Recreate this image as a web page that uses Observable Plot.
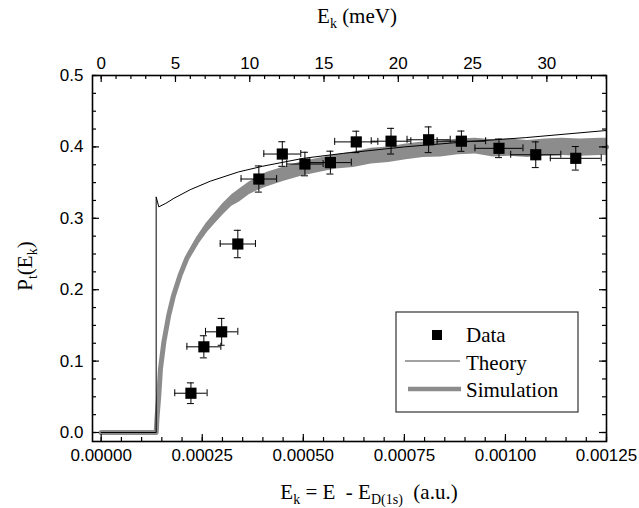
<!DOCTYPE html>
<html><head><meta charset="utf-8">
<script src="https://cdn.jsdelivr.net/npm/d3@7"></script>
<script src="https://cdn.jsdelivr.net/npm/@observablehq/plot@0.6"></script>
<style>body{margin:0;background:#fff} svg{display:block}</style>
</head><body><div id="chart"></div>
<script>
const HARTREE_MEV = 27211.4;

// Measured data points (a.u., P_t) with error bars
const dataX  = [0.000222, 0.000254, 0.000298, 0.000338, 0.000390, 0.000448, 0.000504, 0.000567, 0.000631, 0.000717, 0.000810, 0.000891, 0.000984, 0.001075, 0.001174];
const dataY  = [0.055, 0.120, 0.141, 0.264, 0.355, 0.390, 0.376, 0.378, 0.407, 0.408, 0.410, 0.408, 0.398, 0.389, 0.384];
const dataEx = [0.0000400, 0.0000420, 0.0000400, 0.0000436, 0.0000440, 0.0000457, 0.0000450, 0.0000517, 0.0000534, 0.0000490, 0.0000534, 0.0000600, 0.0000594, 0.0000620, 0.0000630];
const dataEy = [0.0145, 0.0155, 0.0188, 0.0192, 0.0183, 0.0172, 0.0165, 0.0160, 0.0150, 0.0180, 0.0180, 0.0142, 0.0130, 0.0180, 0.0165];

// Theory curve
const theoryX = [0, 0.000136, 0.000136, 0.0001425, 0.00016, 0.00018, 0.00022, 0.00027, 0.00034, 0.00040, 0.00050, 0.00060, 0.00075, 0.00090, 0.00105, 0.00125];
const theoryY = [0, 0, 0.330, 0.316, 0.321, 0.328, 0.340, 0.352, 0.365, 0.373, 0.384, 0.391, 0.400, 0.407, 0.413, 0.423];

// Simulation band (centre and half-spread)
const simX = [0, 0.000136, 0.000138, 0.0001425, 0.0001466, 0.000155, 0.000167, 0.000179, 0.000195, 0.000212, 0.000236, 0.00026, 0.00030, 0.000323, 0.000342, 0.000366, 0.000383, 0.000409, 0.000452, 0.000495, 0.000538, 0.000581, 0.000624, 0.000668, 0.000711, 0.000754, 0.000797, 0.00084, 0.000883, 0.000926, 0.00097, 0.00101, 0.001055, 0.001098, 0.00114, 0.001184, 0.001236, 0.00125];
const simY = [0, 0, 0.020, 0.0516, 0.089, 0.1266, 0.164, 0.192, 0.220, 0.244, 0.267, 0.286, 0.312, 0.325, 0.332, 0.342, 0.347, 0.354, 0.362, 0.369, 0.374, 0.379, 0.382, 0.387, 0.389, 0.393, 0.396, 0.397, 0.400, 0.401, 0.398, 0.399, 0.397, 0.399, 0.400, 0.399, 0.400, 0.400];
const simSpread = [0, 0, 0, 0, 0, 0, 0.002, 0.003, 0.004, 0.005, 0.006, 0.007, 0.008, 0.008, 0.009, 0.009, 0.009, 0.010, 0.010, 0.010, 0.010, 0.010, 0.011, 0.011, 0.011, 0.011, 0.011, 0.011, 0.011, 0.011, 0.012, 0.012, 0.012, 0.012, 0.012, 0.012, 0.012, 0.012];

// Tick labels
const bottomTicks = [0, 0.00025, 0.0005, 0.00075, 0.001, 0.00125];
const topTicksMeV = [0, 5, 10, 15, 20, 25, 30];
const leftTicks = [0, 0.1, 0.2, 0.3, 0.4, 0.5];
const legendLabels = ["Data", "Theory", "Simulation"];

const points = dataX.map((x, i) => ({x, y: dataY[i], ex: dataEx[i], ey: dataEy[i]}));
const theory = theoryX.map((x, i) => ({x, y: theoryY[i]}));
const sim = simX.map((x, i) => ({x, y: simY[i], s: simSpread[i]}));

const W = 639, H = 508, mL = 92, mR = 33, mT = 75, mB = 67;
const pW = W - mL - mR, pH = H - mT - mB;
const xMinor = d3.range(0, 0.0012501, 0.00005);
const topMinor = d3.range(0, 34.5, 1).map(m => m / HARTREE_MEV);
const topMajor = topTicksMeV.map(m => m / HARTREE_MEV);
const yMinor = d3.range(0, 0.5001, 0.025);
const GREY = "#8c8c8c";

const plot = Plot.plot({
  width: W, height: H,
  marginLeft: mL, marginRight: mR, marginTop: mT, marginBottom: mB,
  style: {fontFamily: "'Liberation Sans', Arial, sans-serif", fontSize: "17px", background: "#fff", color: "#000"},
  x: {domain: [-0.0000215, 0.00125]},
  y: {domain: [-0.0126, 0.5]},
  marks: [
    Plot.areaY(sim, {x: "x", y1: d => d.y - d.s, y2: d => d.y + d.s, fill: GREY, curve: "linear"}),
    Plot.line(sim, {x: "x", y: "y", stroke: GREY, strokeWidth: 5, strokeLinejoin: "round"}),
    Plot.line(theory, {x: "x", y: "y", stroke: "#000", strokeWidth: 1}),
    Plot.ruleY(points, {y: "y", x1: d => d.x - d.ex, x2: d => d.x + d.ex, stroke: "#000", strokeWidth: 1}),
    Plot.ruleX(points, {x: "x", y1: d => d.y - d.ey, y2: d => d.y + d.ey, stroke: "#000", strokeWidth: 1}),
    Plot.ruleX(points, {x: d => d.x - d.ex, y1: d => d.y, y2: d => d.y, insetTop: -3.5, insetBottom: -3.5, stroke: "#000"}),
    Plot.ruleX(points, {x: d => d.x + d.ex, y1: d => d.y, y2: d => d.y, insetTop: -3.5, insetBottom: -3.5, stroke: "#000"}),
    Plot.ruleY(points, {y: d => d.y + d.ey, x1: "x", x2: "x", insetLeft: -3.5, insetRight: -3.5, stroke: "#000"}),
    Plot.ruleY(points, {y: d => d.y - d.ey, x1: "x", x2: "x", insetLeft: -3.5, insetRight: -3.5, stroke: "#000"}),
    Plot.dot(points, {x: "x", y: "y", symbol: "square", r: 6.3, fill: "#000", stroke: "none"}),
    // inward ticks
    Plot.ruleX(xMinor, {x: d => d, insetTop: pH - 4, stroke: "#000", strokeWidth: 1.2}),
    Plot.ruleX(bottomTicks, {x: d => d, insetTop: pH - 7, stroke: "#000", strokeWidth: 1.2}),
    Plot.ruleX(topMinor, {x: d => d, insetBottom: pH - 4, stroke: "#000", strokeWidth: 1.2}),
    Plot.ruleX(topMajor, {x: d => d, insetBottom: pH - 7, stroke: "#000", strokeWidth: 1.2}),
    Plot.ruleY(yMinor, {y: d => d, insetRight: pW - 4, stroke: "#000", strokeWidth: 1.2}),
    Plot.ruleY(leftTicks, {y: d => d, insetRight: pW - 7, stroke: "#000", strokeWidth: 1.2}),
    Plot.ruleY(yMinor, {y: d => d, insetLeft: pW - 4, stroke: "#000", strokeWidth: 1.2}),
    Plot.ruleY(leftTicks, {y: d => d, insetLeft: pW - 7, stroke: "#000", strokeWidth: 1.2}),
    Plot.frame({stroke: "#000", strokeWidth: 1.6}),
    Plot.axisX({anchor: "bottom", ticks: bottomTicks, tickFormat: d3.format(".5f"), tickSize: 0, tickPadding: 7, label: null, fontSize: 17}),
    Plot.axisX({anchor: "top", ticks: topMajor, tickFormat: d => String(Math.round(d * HARTREE_MEV)), tickSize: 0, tickPadding: 7, label: null, fontSize: 17}),
    Plot.axisY({anchor: "left", ticks: leftTicks, tickFormat: d3.format(".1f"), tickSize: 0, tickPadding: 9, label: null, fontSize: 17})
  ]
});
document.getElementById("chart").appendChild(plot);

const svg = d3.select(plot);
const serif = "'Liberation Serif', 'Times New Roman', serif";
function subText(g, parts, attrs) {
  const t = g.append("text").attr("font-family", serif).attr("font-size", 21).attr("fill", "#000");
  for (const [k, v] of Object.entries(attrs)) t.attr(k, v);
  let wasSub = false;
  for (const [s, sub] of parts) {
    const ts = t.append("tspan").text(s);
    if (sub) { ts.attr("font-size", 14).attr("dy", 5); wasSub = true; }
    else if (wasSub) { ts.attr("dy", -5); wasSub = false; }
  }
  return t;
}
const titles = svg.append("g");
subText(titles, [["E", false], ["k", true], [" (meV)", false]], {x: 357, y: 23, "text-anchor": "middle"});
subText(titles, [["E", false], ["k", true], [" = E  - E", false], ["D(1s)", true], ["  (a.u.)", false]], {x: 369, y: 499, "text-anchor": "middle", "xml:space": "preserve"});
subText(titles, [["P", false], ["t", true], ["(E", false], ["k", true], [")", false]], {"text-anchor": "middle", transform: "translate(32,266) rotate(-90)"});

// Legend
const lg = svg.append("g");
lg.append("rect").attr("x", 396).attr("y", 312).attr("width", 182).attr("height", 100)
  .attr("fill", "#fff").attr("stroke", "#333").attr("stroke-width", 1.2);
lg.append("rect").attr("x", 432).attr("y", 330).attr("width", 10).attr("height", 10).attr("fill", "#000");
lg.append("line").attr("x1", 405).attr("x2", 460).attr("y1", 361).attr("y2", 361).attr("stroke", "#444").attr("stroke-width", 1);
lg.append("line").attr("x1", 408).attr("x2", 461).attr("y1", 389).attr("y2", 389).attr("stroke", GREY).attr("stroke-width", 4.5);
const legendY = [342, 370, 397];
legendLabels.forEach((s, i) => {
  lg.append("text").attr("x", 466).attr("y", legendY[i]).attr("text-anchor", "start")
    .attr("font-family", serif).attr("font-size", 21).attr("fill", "#000").text(s);
});
</script>
</body></html>
